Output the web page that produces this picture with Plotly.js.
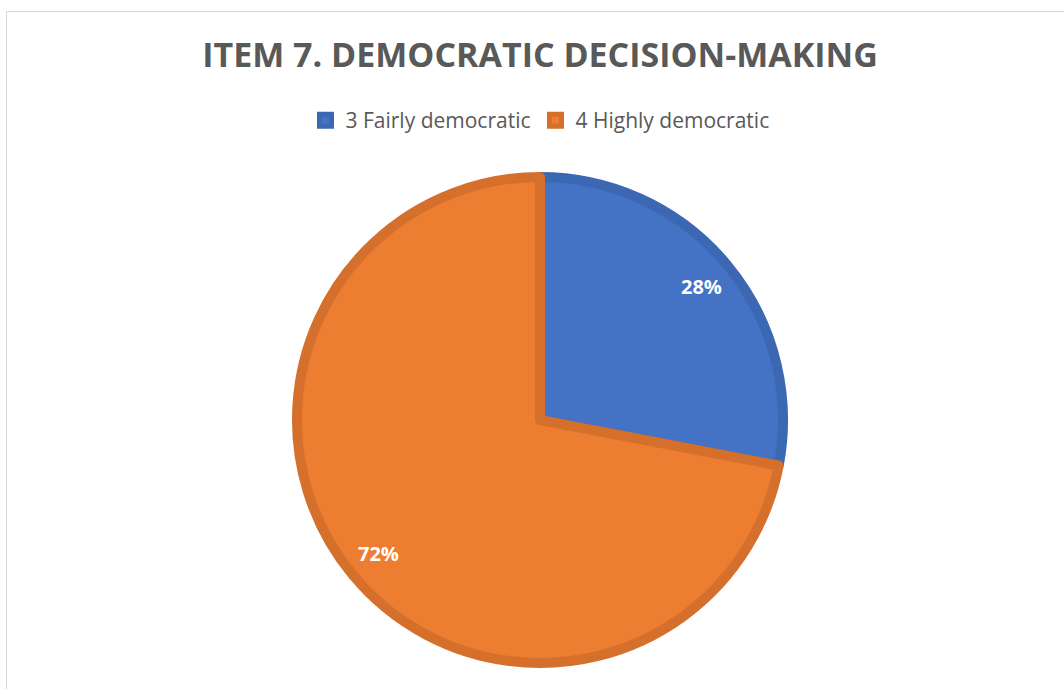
<!DOCTYPE html>
<html>
<head>
<meta charset="utf-8">
<script src="https://cdn.plot.ly/plotly-3.0.1.min.js"></script>
<style>
  html, body { margin: 0; padding: 0; background: #ffffff; }
  #chart { position: absolute; left: 0; top: 0; width: 1064px; height: 689px; }
  #frame { position: absolute; left: 6px; top: 11px; width: 1100px; height: 700px;
           border-left: 1.5px solid #d9d9d9; border-top: 1.5px solid #d9d9d9; pointer-events: none; }
</style>
</head>
<body>
<div id="chart"></div>
<div id="frame"></div>
<script>
const categories = ["3 Fairly democratic", "4 Highly democratic"];
const shares = [28, 72];
const fillColors = ["#4472C4", "#ED7D31"];
const edgeColors = ["#3C67B2", "#D5702C"];
const chartTitle = "ITEM 7. DEMOCRATIC DECISION-MAKING";

const W = 1064, H = 689;
const cx = 540, cy = 420, outerR = 248, edge = 10;
const r = outerR - edge / 2;

const trace = {
  type: "pie",
  labels: categories,
  values: shares,
  sort: false,
  direction: "clockwise",
  rotation: 0,
  textinfo: "none",
  hoverinfo: "label+percent",
  marker: { colors: fillColors, line: { color: edgeColors, width: edge } },
  domain: { x: [(cx - r) / W, (cx + r) / W], y: [(H - cy - r) / H, (H - cy + r) / H] },
  showlegend: true
};

// percentage labels placed along each slice's mid-angle
const total = shares.reduce((a, b) => a + b, 0);
let cum = 0;
const annotations = shares.map((v) => {
  const mid = (cum + v / 2) / total * 2 * Math.PI;
  cum += v;
  const d = 0.845 * outerR;
  return {
    xref: "paper", yref: "paper",
    x: (cx + d * Math.sin(mid)) / W,
    y: (H - cy + d * Math.cos(mid)) / H,
    text: Math.round(v / total * 100) + "%",
    showarrow: false,
    font: { family: "Open Sans, sans-serif", size: 20, color: "#ffffff", weight: 700 },
    xanchor: "center", yanchor: "middle"
  };
});

const layout = {
  width: W, height: H,
  margin: { l: 0, r: 0, t: 0, b: 0 },
  paper_bgcolor: "#ffffff",
  title: {
    text: "<b>" + chartTitle + "</b>",
    x: 540 / W, xanchor: "center",
    y: 1 - 55 / H, yanchor: "middle",
    font: { family: "Open Sans, sans-serif", size: 34, color: "#595959" }
  },
  legend: {
    orientation: "h",
    x: 540 / W, xanchor: "center",
    y: 1 - 100 / H, yanchor: "top",
    font: { family: "Open Sans, sans-serif", size: 21, color: "#595959" },
    itemwidth: 30,
    traceorder: "normal"
  },
  annotations: annotations
};

Plotly.newPlot("chart", [trace], layout, { staticPlot: true, displayModeBar: false });
</script>
</body>
</html>
